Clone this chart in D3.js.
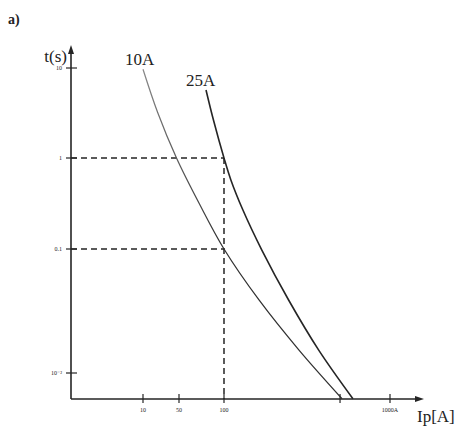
<!DOCTYPE html>
<html>
<head>
<meta charset="utf-8">
<script src="https://cdn.jsdelivr.net/npm/d3@7"></script>
<style>
  html, body { margin: 0; padding: 0; background: #fff; }
  svg { display: block; }
  text { font-family: "Liberation Serif", "DejaVu Serif", serif; fill: #222; }
</style>
</head>
<body>
<svg id="chart" width="463" height="427"></svg>
<script>
// Time-current characteristics of two fuses (10 A and 25 A)
const currentTicks = [10, 50, 100, 500, 1000];
const currentTickLabels = ["10", "50", "100", "", "1000A"];
const timeTicks = [10, 1, 0.1, 0.01];
const timeTickLabels = ["10", "1", "0.1", "10\u207B\u00B2"];

// fuse curves: current [A] and melting time [s]
const fuse10Current = [10, 19.1, 44.7, 68, 100, 162.5, 283, 514];
const fuse10Time    = [9.7, 3.25, 1, 0.32, 0.1, 0.0388, 0.0153, 0.0062];
const fuse25Current = [75.8, 85, 100, 110, 130, 169, 245, 372, 598];
const fuse25Time    = [5.7, 2.64, 1, 0.574, 0.268, 0.098, 0.0388, 0.0153, 0.0062];

// reading at 100 A
const markCurrent = 100;
const markTimes = [1, 0.1];

const svg = d3.select("#chart");

// axis frame
const originX = 71, originY = 399;
const axisTopY = 45, axisRightX = 424;

// hand-drawn graph: decades are not evenly spaced, so piecewise log scales
const x = d3.scaleLog()
  .domain([10, 50, 100, 1000])
  .range([143, 179, 224, 390]);
const y = d3.scaleLog()
  .domain([0.01, 0.1, 1, 10])
  .range([373, 249, 158, 68]);

const ink = "#252525";

// the thin 10 A trace fades out towards its upper end
const defs = svg.append("defs");
const grad = defs.append("linearGradient")
  .attr("id", "fade10")
  .attr("gradientUnits", "userSpaceOnUse")
  .attr("x1", 0).attr("x2", 0)
  .attr("y1", y(10)).attr("y2", y(0.1));
grad.append("stop").attr("offset", 0).attr("stop-color", "#8a8a8a");
grad.append("stop").attr("offset", 1).attr("stop-color", "#303030");

// axes
svg.append("line")
  .attr("x1", originX).attr("y1", originY)
  .attr("x2", originX).attr("y2", axisTopY + 4)
  .attr("stroke", ink).attr("stroke-width", 1.6);
svg.append("line")
  .attr("x1", originX).attr("y1", originY)
  .attr("x2", axisRightX - 4).attr("y2", originY)
  .attr("stroke", ink).attr("stroke-width", 1.6);
// arrow heads
svg.append("path")
  .attr("d", `M${originX},${axisTopY} L${originX - 3},${axisTopY + 9} L${originX + 3},${axisTopY + 9} Z`)
  .attr("fill", ink);
svg.append("path")
  .attr("d", `M${axisRightX},${originY} L${axisRightX - 9},${originY - 3} L${axisRightX - 9},${originY + 3} Z`)
  .attr("fill", ink);

// y ticks
const yTickG = svg.append("g");
timeTicks.forEach((t, i) => {
  const py = y(t);
  yTickG.append("line")
    .attr("x1", originX - 5).attr("x2", originX + 6)
    .attr("y1", py).attr("y2", py)
    .attr("stroke", ink).attr("stroke-width", 1.2);
  yTickG.append("text")
    .attr("x", originX - 9).attr("y", py + 2)
    .attr("text-anchor", "end")
    .attr("font-size", 6)
    .text(timeTickLabels[i]);
});

// x ticks
const xTickG = svg.append("g");
currentTicks.forEach((c, i) => {
  const px = x(c);
  xTickG.append("line")
    .attr("x1", px).attr("x2", px)
    .attr("y1", originY - 5).attr("y2", originY + 4)
    .attr("stroke", ink).attr("stroke-width", 1.2);
  if (currentTickLabels[i]) {
    xTickG.append("text")
      .attr("x", px).attr("y", originY + 13)
      .attr("text-anchor", "middle")
      .attr("font-size", 6)
      .text(currentTickLabels[i]);
  }
});

// dashed reading lines
const dash = "6,4";
markTimes.forEach(t => {
  svg.append("line")
    .attr("x1", originX).attr("x2", x(markCurrent))
    .attr("y1", y(t)).attr("y2", y(t))
    .attr("stroke", ink).attr("stroke-width", 1.5)
    .attr("stroke-dasharray", dash);
});
svg.append("line")
  .attr("x1", x(markCurrent)).attr("x2", x(markCurrent))
  .attr("y1", y(d3.max(markTimes))).attr("y2", originY)
  .attr("stroke", ink).attr("stroke-width", 1.5)
  .attr("stroke-dasharray", dash);

// curves
const line = d3.line()
  .x(d => x(d[0]))
  .y(d => y(d[1]))
  .curve(d3.curveCatmullRom.alpha(0.5));

svg.append("path")
  .datum(d3.zip(fuse10Current, fuse10Time))
  .attr("d", line)
  .attr("fill", "none")
  .attr("stroke", "url(#fade10)")
  .attr("stroke-width", 1.25);

svg.append("path")
  .datum(d3.zip(fuse25Current, fuse25Time))
  .attr("d", line)
  .attr("fill", "none")
  .attr("stroke", ink)
  .attr("stroke-width", 1.6);

// labels
svg.append("text").attr("x", 8).attr("y", 24)
  .attr("font-size", 14).attr("font-weight", "bold").text("a)");
svg.append("text").attr("x", 67).attr("y", 62)
  .attr("text-anchor", "end").attr("font-size", 17).text("t(s)");
svg.append("text").attr("x", 125).attr("y", 65)
  .attr("font-size", 17).text("10A");
svg.append("text").attr("x", 186).attr("y", 86)
  .attr("font-size", 17).text("25A");
svg.append("text").attr("x", 417).attr("y", 422)
  .attr("font-size", 17).text("Ip[A]");
</script>
</body>
</html>
